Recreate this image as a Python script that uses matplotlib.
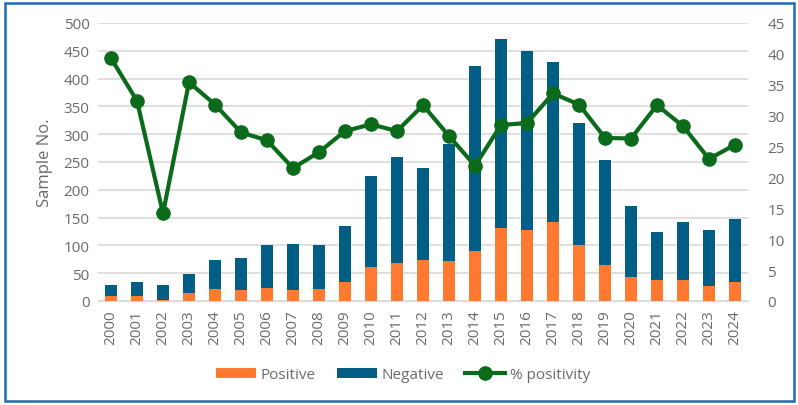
import numpy as np
import matplotlib.pyplot as plt
from matplotlib.patches import Rectangle

plt.rcParams['font.family'] = ['Open Sans', 'DejaVu Sans']

years = [str(y) for y in range(2000, 2025)]
positive = [9, 9, 2, 15, 21, 19, 24, 20, 22, 35, 62, 69, 73, 72, 90,
            131, 127, 142, 100, 65, 43, 37, 37, 27, 35]
total = [28, 35, 28, 49, 73, 78, 101, 103, 100, 135, 225, 259, 239, 282, 422,
         471, 449, 429, 320, 253, 171, 124, 142, 127, 147]
negative = [t - p for t, p in zip(total, positive)]
pct_pos = [39.3, 32.4, 14.2, 35.4, 31.8, 27.3, 26.0, 21.5, 24.1, 27.5, 28.6, 27.5,
           31.7, 26.7, 21.9, 28.5, 28.8, 33.6, 31.8, 26.4, 26.3, 31.7, 28.3, 23.0, 25.3]

c_pos = '#FF7A30'
c_neg = '#025E84'
c_line = '#0B6B1B'
c_text = '#6A6A6A'

fig = plt.figure(figsize=(7.98, 4.06), dpi=100)
ax = fig.add_axes([98 / 798, 1 - 302 / 406, 650 / 798, 278 / 406])

x = np.arange(len(years))
ax.bar(x, positive, width=0.48, color=c_pos, label='Positive', zorder=2)
ax.bar(x, negative, width=0.48, bottom=positive, color=c_neg, label='Negative', zorder=2)
ax.set_xlim(-0.5, len(years) - 0.5)
ax.set_ylim(0, 500)
ax.set_yticks(range(0, 501, 50))
ax.set_xticks(x)
ax.set_xticklabels(years, rotation=90)
ax.grid(axis='y', color='#D9D9D9', linewidth=1.2, zorder=0)
ax.set_axisbelow(True)
for s in ax.spines.values():
    s.set_visible(False)
ax.spines['bottom'].set_visible(True)
ax.spines['bottom'].set_color('#D9D9D9')
ax.tick_params(length=0, colors=c_text, labelsize=11, pad=6)
ax.set_ylabel('Sample No.', color=c_text, fontsize=12, labelpad=8)

ax2 = ax.twinx()
ax2.plot(x, pct_pos, color=c_line, linewidth=3, marker='o', markersize=9.5,
         label='% positivity', zorder=3)
ax2.set_ylim(0, 45)
ax2.set_yticks(range(0, 46, 5))
for s in ax2.spines.values():
    s.set_visible(False)
ax2.tick_params(length=0, colors=c_text, labelsize=11, pad=14)

h1, l1 = ax.get_legend_handles_labels()
h2, l2 = ax2.get_legend_handles_labels()
leg = fig.legend(h1 + h2, l1 + l2, loc='center', bbox_to_anchor=(0.505, 1 - 376 / 406),
                 ncol=3, frameon=False, fontsize=11, handlelength=2.6,
                 handleheight=0.6, columnspacing=1.4, handletextpad=0.3)
for t in leg.get_texts():
    t.set_color(c_text)

border = Rectangle((5 / 798, 4 / 406), 789 / 798, 398 / 406,
                   transform=fig.transFigure, fill=False,
                   edgecolor='#1F6CB0', linewidth=1.8)
fig.patches.append(border)

fig.savefig('out.png', dpi=100)
